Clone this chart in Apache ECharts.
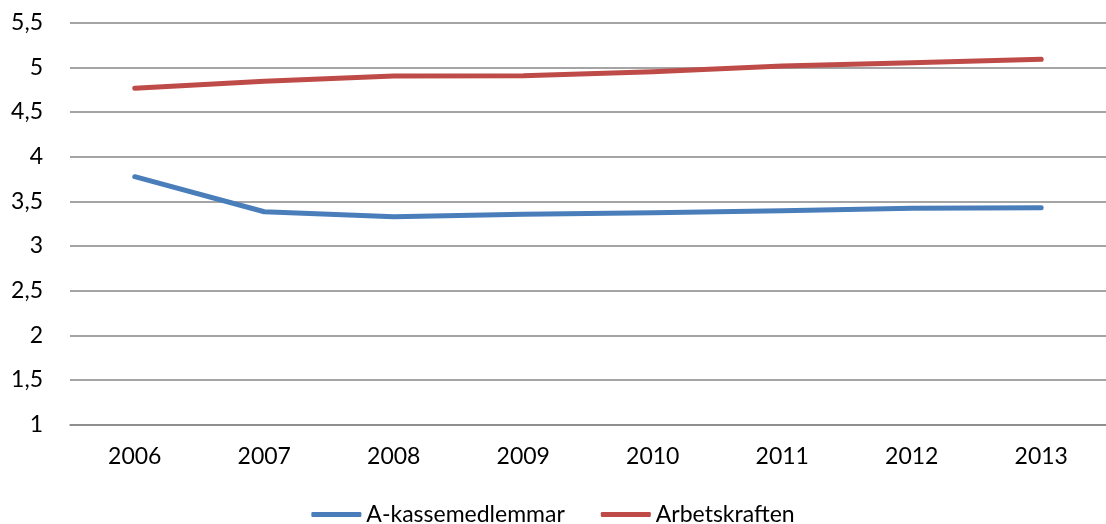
<!DOCTYPE html>
<html>
<head>
<meta charset="utf-8">
<script src="https://cdn.jsdelivr.net/npm/echarts@6/dist/echarts.min.js"></script>
<style>html,body{margin:0;padding:0;background:#fff;}#c{width:1106px;height:524px;}</style>
</head>
<body>
<div id="c"></div>
<script>
const categories = ['2006','2007','2008','2009','2010','2011','2012','2013'];
const aKasse = [3.776, 3.384, 3.328, 3.355, 3.373, 3.396, 3.422, 3.429];
const arbetskraften = [4.766, 4.844, 4.902, 4.907, 4.952, 5.015, 5.052, 5.09];
const seriesNames = ['A-kassemedlemmar', 'Arbetskraften'];

const chart = echarts.init(document.getElementById('c'));
const font = 'Lato, "Open Sans", sans-serif';
chart.setOption({
  animation: false,
  textStyle: { fontFamily: font },
  grid: { left: 70, top: 22.7, width: 1054, height: 402, containLabel: false },
  legend: {
    data: seriesNames,
    top: 498,
    left: 'center',
    icon: 'roundRect',
    itemWidth: 50,
    itemHeight: 5,
    itemGap: 36,
    textStyle: { fontFamily: font, fontSize: 23, color: '#000' }
  },
  xAxis: {
    type: 'category',
    data: categories,
    boundaryGap: true,
    axisLine: { show: true, lineStyle: { color: '#868686', width: 1.5 } },
    axisTick: { show: false },
    axisLabel: { color: '#000', fontSize: 23, fontFamily: font, margin: 20 }
  },
  yAxis: {
    type: 'value',
    min: 1, max: 5.5, interval: 0.5,
    axisLine: { show: false },
    axisTick: { show: false },
    splitLine: { lineStyle: { color: '#868686', width: 1.5 } },
    axisLabel: { color: '#000', fontSize: 23, fontFamily: font, margin: 27,
      formatter: v => String(v).replace('.', ',') }
  },
  series: [
    { name: seriesNames[0], type: 'line', data: aKasse, symbol: 'none',
      lineStyle: { color: '#4a7ebb', width: 5, cap: 'round', join: 'round' },
      itemStyle: { color: '#4a7ebb' } },
    { name: seriesNames[1], type: 'line', data: arbetskraften, symbol: 'none',
      lineStyle: { color: '#be4b48', width: 5, cap: 'round', join: 'round' },
      itemStyle: { color: '#be4b48' } }
  ]
});
</script>
</body>
</html>
